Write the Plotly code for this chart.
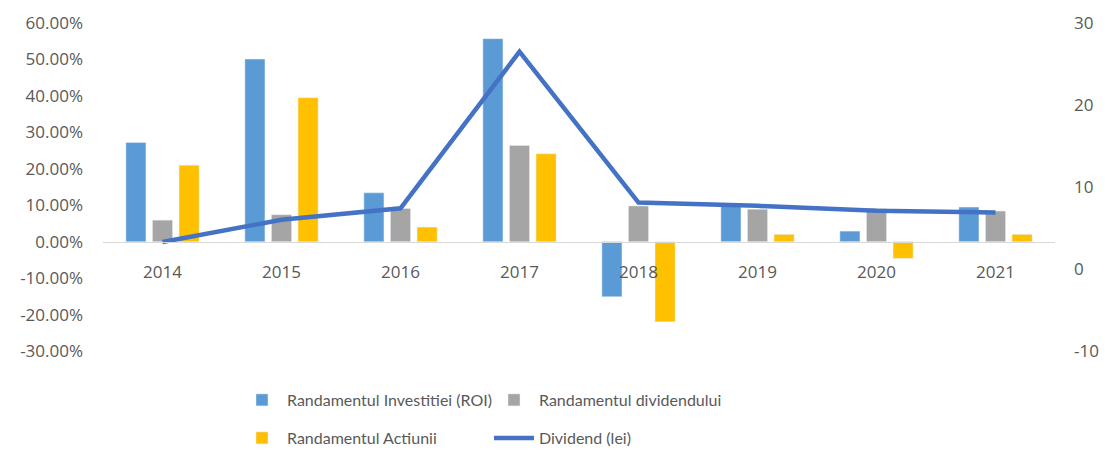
import plotly.graph_objects as go

years = ["2014", "2015", "2016", "2017", "2018", "2019", "2020", "2021"]
roi = [0.272, 0.501, 0.134, 0.557, -0.151, 0.101, 0.029, 0.095]
randament_div = [0.059, 0.074, 0.091, 0.264, 0.098, 0.089, 0.091, 0.084]
randament_act = [0.210, 0.395, 0.040, 0.241, -0.220, 0.020, -0.046, 0.020]
dividend_lei = [3.3, 6.0, 7.4, 26.5, 8.1, 7.7, 7.1, 6.9]

left_ticks = [-0.3, -0.2, -0.1, 0.0, 0.1, 0.2, 0.3, 0.4, 0.5, 0.6]
right_ticks = [-10, 0, 10, 20, 30]
left_labels = [f"{v * 100:.2f}%" for v in left_ticks]
right_labels = [f"{v}" for v in right_ticks]

tick_font = dict(family="Open Sans", size=17, color="#595959")
leg_font = dict(family="Lato", size=16, color="#595959")

fig = go.Figure()
fig.add_trace(go.Bar(x=years, y=roi, name="Randamentul Investitiei (ROI)",
                     marker_color="#5B9BD5", legend="legend"))
fig.add_trace(go.Bar(x=years, y=randament_div, name="Randamentul dividendului",
                     marker_color="#A5A5A5", legend="legend"))
fig.add_trace(go.Bar(x=years, y=randament_act, name="Randamentul Actiunii",
                     marker_color="#FFC000", legend="legend2"))
fig.add_trace(go.Scatter(x=years, y=dividend_lei, name="Dividend (lei)", mode="lines",
                         line=dict(color="#4472C4", width=4.5), yaxis="y2", legend="legend2"))

fig.update_layout(
    width=1105, height=450,
    margin=dict(l=103, r=50, t=23, b=99),
    paper_bgcolor="white", plot_bgcolor="white",
    barmode="group", bargap=0.33, bargroupgap=0.245,
    xaxis=dict(anchor="free", position=1/3, showline=True, linecolor="#d9d9d9", linewidth=1,
               showgrid=False, zeroline=False, tickfont=tick_font, ticks="",
               ticklabelstandoff=15, automargin=False),
    yaxis=dict(range=[-0.3, 0.6], tickvals=left_ticks, ticktext=left_labels, showgrid=False,
               zeroline=False, tickfont=tick_font, ticklabelstandoff=19, automargin=False),
    yaxis2=dict(range=[-10, 30], tickvals=right_ticks, ticktext=right_labels, overlaying="y",
                side="right", showgrid=False,
                zeroline=False, tickfont=tick_font, ticklabelstandoff=18, automargin=False),
    legend=dict(orientation="h", xref="container", yref="container",
                x=(245 - 8) / 1105, y=1 - 400 / 450, xanchor="left", yanchor="middle",
                font=leg_font, entrywidth=197, itemwidth=40, traceorder="normal",
                bgcolor="rgba(0,0,0,0)"),
    legend2=dict(orientation="h", xref="container", yref="container",
                 x=(245 - 8) / 1105, y=1 - 438 / 450, xanchor="left", yanchor="middle",
                 font=leg_font, entrywidth=197, itemwidth=40, traceorder="normal",
                 bgcolor="rgba(0,0,0,0)"),
    showlegend=True,
)

fig.write_html("out.html", config={"displayModeBar": False},
               post_script="document.body.style.margin='0';")
